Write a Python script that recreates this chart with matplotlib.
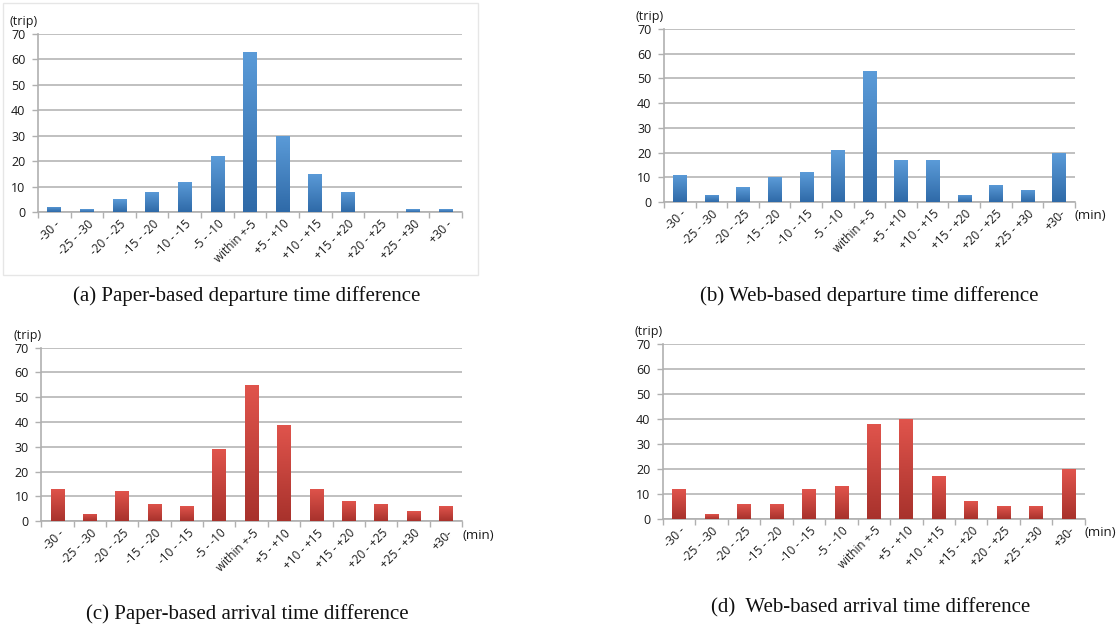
import numpy as np
import matplotlib.pyplot as plt
from matplotlib.colors import LinearSegmentedColormap
from matplotlib.patches import Rectangle

categories = ['-30 -', '-25 - -30', '-20 - -25', '-15 - -20', '-10 - -15', '-5 - -10',
              'within +-5', '+5 - +10', '+10 - +15', '+15 - +20', '+20 - +25',
              '+25 - +30', '+30-']

paper_dep = [2, 1, 5, 8, 12, 22, 63, 30, 15, 8, 0, 1, 1]
web_dep = [11, 3, 6, 10, 12, 21, 53, 17, 17, 3, 7, 5, 20]
paper_arr = [13, 3, 12, 7, 6, 29, 55, 39, 13, 8, 7, 4, 6]
web_arr = [12, 2, 6, 6, 12, 13, 38, 40, 17, 7, 5, 5, 20]

captions = ['(a) Paper-based departure time difference',
            '(b) Web-based departure time difference',
            '(c) Paper-based arrival time difference',
            '(d)  Web-based arrival time difference']

blue = LinearSegmentedColormap.from_list('blue_bar', ['#2f6aa8', '#5b9bd8'])
red = LinearSegmentedColormap.from_list('red_bar', ['#a8322c', '#e0544c'])

fig = plt.figure(figsize=(11.16, 6.31), dpi=100)
tick_font = 'Open Sans'
grad = np.linspace(0, 1, 64).reshape(-1, 1)


def draw_panel(rect, values, cmap, labels, show_min):
    ax = fig.add_axes(rect)
    x = np.arange(len(values))
    bars = ax.bar(x, values, width=0.42, color='none', edgecolor='none', zorder=3)
    # vertical gradient fill, clipped to each bar
    for b in bars:
        h = b.get_height()
        if h <= 0:
            continue
        x0 = b.get_x()
        im = ax.imshow(grad, cmap=cmap, aspect='auto', origin='lower',
                       extent=(x0, x0 + b.get_width(), 0, h), zorder=3)
        im.set_clip_path(b)
    ax.set_xlim(-0.5, len(values) - 0.5)
    ax.set_ylim(0, 70)
    ax.set_yticks(range(0, 71, 10))
    ax.yaxis.grid(True, color='#b5b5b5', linewidth=1.2, zorder=0)
    ax.set_axisbelow(True)
    for s in ['top', 'right']:
        ax.spines[s].set_visible(False)
    for s in ['left', 'bottom']:
        ax.spines[s].set_color('#b0b0b0')
        ax.spines[s].set_linewidth(1.2)
    ax.set_xticks(x)
    ax.set_xticklabels(labels, rotation=45, ha='right', rotation_mode='anchor',
                       fontsize=8.5, family=tick_font, color='#1a1a1a')
    ax.tick_params(axis='x', length=0, pad=4)
    ax.set_xticks(np.arange(-0.5, len(values), 1), minor=True)
    ax.tick_params(axis='x', which='minor', length=4, color='#b0b0b0', width=1)
    ax.tick_params(axis='y', length=4, color='#b0b0b0', width=1, pad=5,
                   labelsize=9, labelcolor='#1a1a1a')
    for t in ax.get_yticklabels():
        t.set_family(tick_font)
    ax.text(0.0, 1.035, '(trip)', transform=ax.transAxes, ha='right', va='bottom',
            fontsize=9, family=tick_font, color='#1a1a1a')
    if show_min:
        ax.text(1.0, -0.08, '(min)', transform=ax.transAxes, ha='left', va='center',
                fontsize=9.5, family=tick_font, color='#1a1a1a')
    return ax


labels_a = categories[:-1] + ['+30 -']
draw_panel([0.034, 0.664, 0.380, 0.282], paper_dep, blue, labels_a, False)
draw_panel([0.595, 0.680, 0.368, 0.274], web_dep, blue, categories, True)
draw_panel([0.037, 0.174, 0.377, 0.275], paper_arr, red, categories, True)
draw_panel([0.594, 0.178, 0.378, 0.277], web_arr, red, categories, True)

# light frame around the first panel
fig.patches.append(Rectangle((3 / 1116, 1 - 275 / 631), 475 / 1116, 272 / 631,
                             transform=fig.transFigure, fill=False,
                             edgecolor='#e6e6e6', linewidth=1))

cap_pos = [(247 / 1116, 1 - 296 / 631), (869 / 1116, 1 - 296 / 631),
           (247 / 1116, 1 - 614 / 631), (871 / 1116, 1 - 608 / 631)]
for (cx, cy), cap in zip(cap_pos, captions):
    fig.text(cx, cy, cap, ha='center', va='center', fontsize=15,
             family='Liberation Serif', color='#111111')

fig.savefig('out.png', dpi=100)
